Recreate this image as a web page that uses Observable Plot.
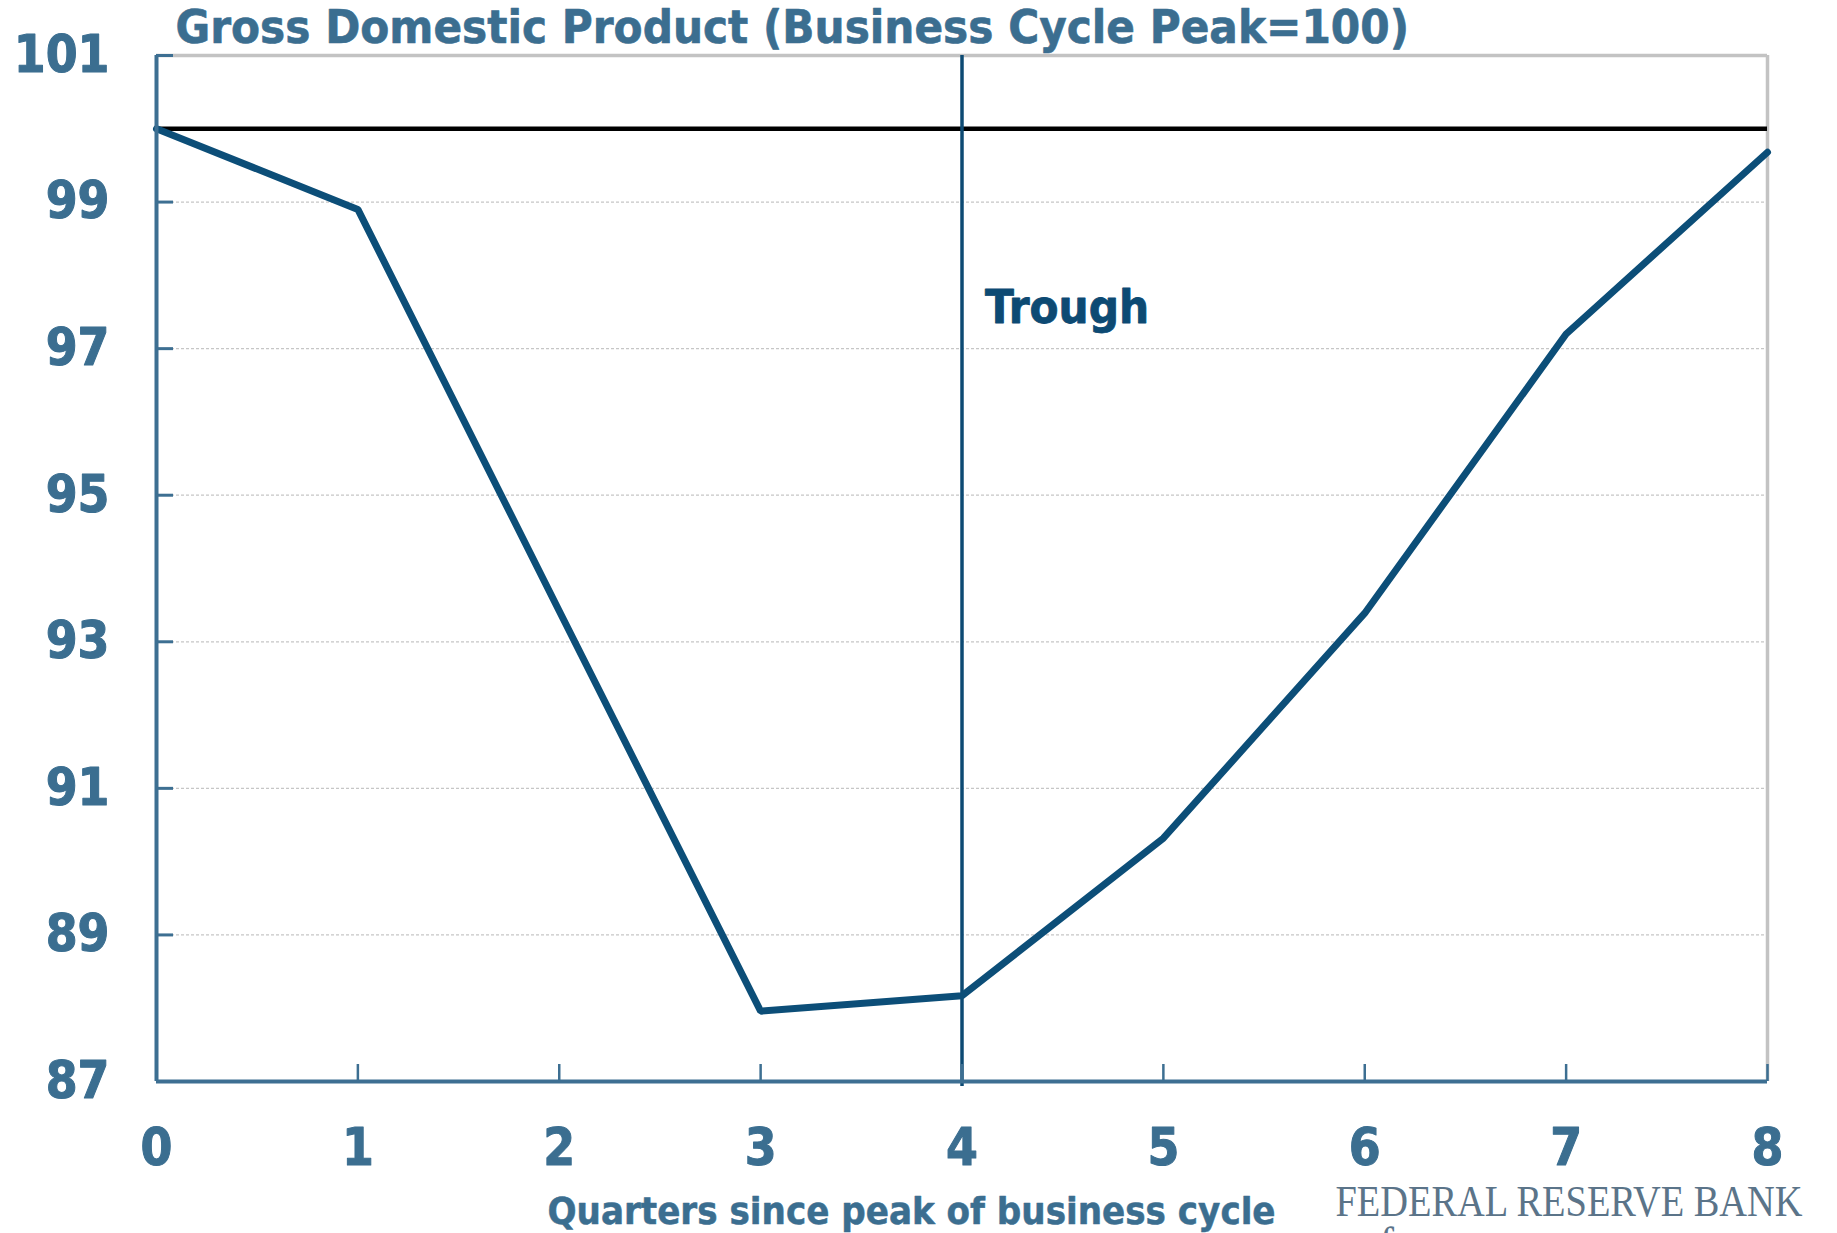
<!DOCTYPE html>
<html>
<head>
<meta charset="utf-8">
<script src="https://cdn.jsdelivr.net/npm/d3@7"></script>
<script src="https://cdn.jsdelivr.net/npm/@observablehq/plot@0.6"></script>
<style>
  html, body { margin: 0; padding: 0; background: #ffffff; }
  #chart svg { display: block; }
</style>
</head>
<body>
<div id="chart"></div>
<script>
// ---- data ----
const quarters = [0, 1, 2, 3, 4, 5, 6, 7, 8];
const gdpIndex = [100, 98.9, 93.42, 87.96, 88.17, 90.32, 93.39, 97.2, 99.68];
const yTickValues = [87, 89, 91, 93, 95, 97, 99, 101];
const gridValues = [89, 91, 93, 95, 97, 99];
const xTickValues = [0, 1, 2, 3, 4, 5, 6, 7, 8];
const peakLevel = [100];
const troughQuarter = [4];
const troughLabel = ["Trough"];
const troughLabelY = [97.56];
const titleText = ["Gross Domestic Product (Business Cycle Peak=100)"];
const xLabelText = ["Quarters since peak of business cycle"];
const sourceLines = ["FEDERAL RESERVE BANK", "of"];

const rows = quarters.map((q, i) => ({q, v: gdpIndex[i]}));

const FONT = '"DejaVu Sans Condensed", "DejaVu Sans", sans-serif';
const BLUE_TEXT = "#3b6e90";
const AXIS_BLUE = "#3d6f92";
const LINE_BLUE = "#0c4e78";
const DARK_BLUE = "#0d4a73";

const chart = Plot.plot({
  width: 1837,
  height: 1233,
  marginLeft: 156,
  marginRight: 70,
  marginTop: 55,
  marginBottom: 152,
  style: {background: "#ffffff", fontFamily: FONT, overflow: "visible"},
  x: {domain: [0, 8]},
  y: {domain: [87, 101]},
  marks: [
    Plot.gridY(gridValues, {stroke: "#c6c6c6", strokeOpacity: 1, strokeWidth: 1.2, strokeDasharray: "3,2"}),
    Plot.ruleY([101], {stroke: "#c3c3c3", strokeWidth: 3.5}),
    Plot.ruleX([8], {stroke: "#c3c3c3", strokeWidth: 3.5}),
    Plot.ruleY(peakLevel, {stroke: "#000000", strokeWidth: 4.5}),
    Plot.ruleX(troughQuarter, {stroke: DARK_BLUE, strokeWidth: 3.5, insetBottom: -5}),
    Plot.line(rows, {x: "q", y: "v", stroke: LINE_BLUE, strokeWidth: 7, strokeLinejoin: "miter"}),
    Plot.ruleX([0], {stroke: AXIS_BLUE, strokeWidth: 4}),
    Plot.ruleY([87], {stroke: AXIS_BLUE, strokeWidth: 4}),
    Plot.axisY({ticks: yTickValues, tickSize: -17, fill: "none", stroke: AXIS_BLUE, strokeWidth: 3, label: null}),
    Plot.axisY({ticks: yTickValues, tickSize: 0, tickPadding: 47, fontSize: 51, fontWeight: "bold", fill: BLUE_TEXT, textStroke: BLUE_TEXT, textStrokeWidth: 1, label: null}),
    Plot.axisX({ticks: xTickValues, tickSize: -17, fill: "none", stroke: AXIS_BLUE, strokeWidth: 2.5, label: null}),
    Plot.axisX({ticks: xTickValues, tickSize: 0, tickPadding: 47, fontSize: 51, fontWeight: "bold", fill: BLUE_TEXT, textStroke: BLUE_TEXT, textStrokeWidth: 1, label: null}),
    Plot.text(troughLabel, {x: troughQuarter, y: troughLabelY, text: d => d, dx: 23, textAnchor: "start", lineAnchor: "middle", fontSize: 47, fontWeight: "bold", fill: DARK_BLUE, stroke: DARK_BLUE, strokeWidth: 0.8}),
    Plot.text(titleText, {text: d => d, frameAnchor: "top-left", dx: 19, dy: -13, textAnchor: "start", lineAnchor: "bottom", fontSize: 47, fontWeight: "bold", fill: BLUE_TEXT, stroke: BLUE_TEXT, strokeWidth: 0.6}),
    Plot.text(xLabelText, {text: d => d, frameAnchor: "bottom-left", dx: 391, dy: 142, textAnchor: "start", lineAnchor: "bottom", fontSize: 38, fontWeight: "bold", fill: BLUE_TEXT, stroke: BLUE_TEXT, strokeWidth: 0.5}),
    Plot.text([sourceLines[0]], {text: d => d, frameAnchor: "bottom-left", dx: 1179, dy: 134, textAnchor: "start", lineAnchor: "bottom", fontSize: 45, fontFamily: '"Liberation Serif", serif', fill: "#5b7489", className: "src-main"}),
    Plot.text([sourceLines[1]], {text: d => d, frameAnchor: "bottom-left", dx: 1200, dy: 176, textAnchor: "start", lineAnchor: "bottom", fontSize: 45, fontFamily: '"Liberation Serif", serif', fill: "#5b7489"})
  ]
});

document.getElementById("chart").appendChild(chart);
// condense the serif source line to the reference width
d3.select(chart).selectAll(".src-main text").attr("textLength", 467).attr("lengthAdjust", "spacingAndGlyphs");
</script>
</body>
</html>
